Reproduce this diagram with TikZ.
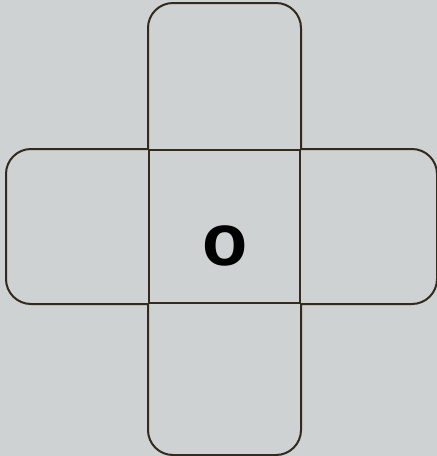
\documentclass[tikz,border=0pt]{standalone}
\usepackage{fontspec}
\setsansfont{Liberation Sans}
\usetikzlibrary{positioning,calc}
\definecolor{PaperC}{RGB}{206,210,211}
\definecolor{EdgeC}{RGB}{52,42,28}
\tikzset{
  flap/.style={draw=EdgeC,line width=2pt,rounded corners=25pt},
  face/.style={draw=EdgeC,line width=2pt,inner sep=0pt,
               minimum width=151pt,minimum height=153pt},
  letter/.style={font=\fontsize{74}{74}\selectfont\sffamily\bfseries,inner sep=0pt},
}

\begin{document}
\begin{tikzpicture}[x=1pt,y=-1pt]
  % paper
  \fill[PaperC] (0,0) rectangle (437,456);
  \useasboundingbox (0,0) rectangle (437,456);
  % middle face and its letter
  \node[face] (mid) at (224.5,226.5) {};
  \node[letter] (lbl) at (225.5,246) {o};
  % the four flaps round it
  \draw[flap] (mid.north west) -- ($(mid.north west)+(0,-146)$)
              -- ($(mid.north east)+(0,-146)$) -- (mid.north east);
  \draw[flap] (mid.south west) -- ($(mid.south west)+(0,151)$)
              -- ($(mid.south east)+(0,151)$) -- (mid.south east);
  \draw[flap] (mid.north west) -- ($(mid.north west)+(-142,0)$)
              -- ($(mid.south west)+(-142,0)$) -- (mid.south west);
  \draw[flap] (mid.north east) -- ($(mid.north east)+(136,0)$)
              -- ($(mid.south east)+(136,0)$) -- (mid.south east);
\end{tikzpicture}
\end{document}
